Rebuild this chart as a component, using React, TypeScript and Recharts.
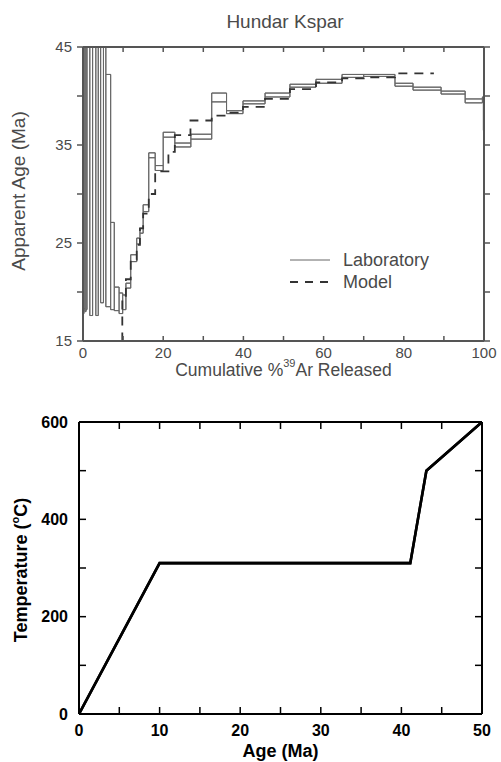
import React from 'react';
import { ComposedChart, LineChart, Line, XAxis, YAxis, ReferenceArea, Legend } from 'recharts';

// ---------- Top panel: Hundar Kspar age spectrum ----------
// cumulative % 39Ar step edges
const stepEdges = [0, 0.25, 0.5, 0.75, 1.0, 1.7, 2.4, 3.2, 3.8, 4.4, 5.1, 5.7, 6.9, 7.8, 9.0, 9.9, 10.7, 11.9, 13.4, 14.2, 15.0, 16.4, 18.0, 20.0, 22.9, 26.9, 32.1, 35.8, 39.9, 45.4, 51.6, 58.1, 64.6, 70.0, 77.8, 82.3, 89.3, 95.3, 99.6, 99.85, 100];
// laboratory apparent age box, lower and upper bound (Ma)
const labLow = [17.8, 18.3, 18.0, 18.2, 48, 17.6, 48, 17.6, 48, 18.9, 48, 18.5, 18.2, 18.1, 17.8, 18.2, 20.4, 23.1, 24.9, 26.0, 28.2, 33.7, 32.4, 35.8, 34.8, 35.6, 39.4, 38.2, 39.2, 39.9, 40.9, 41.3, 41.9, 42.0, 41.0, 40.6, 40.2, 39.3, 39.7, 36.5];
const labHigh = [70, 70, 70, 70, 70, 70, 70, 70, 70, 70, 70, 42.2, 27.1, 20.5, 19.9, 19.7, 20.9, 23.8, 25.5, 26.5, 28.9, 34.2, 32.9, 36.3, 35.2, 36.1, 40.3, 38.5, 39.5, 40.3, 41.2, 41.7, 42.2, 42.2, 41.3, 40.9, 40.5, 39.7, 39.9, 39.9];
// model spectrum (step start, age)
const modelCum = [9.7, 9.8, 10.7, 11.9, 13.4, 14.2, 15.0, 16.4, 18.0, 21.3, 22.9, 26.8, 32.1, 35.8, 39.9, 45.4, 51.6, 58.1, 64.6, 70.0, 77.8, 87.5];
const modelAge = [15.0, 19.6, 21.3, 23.3, 24.8, 26.5, 28.0, 30.0, 32.3, 34.3, 36.0, 37.5, 38.0, 38.3, 38.9, 39.7, 40.7, 41.4, 41.8, 41.9, 42.3, 42.3];

const topXTicks = [0, 10, 20, 30, 40, 50, 60, 70, 80, 90, 100];
const topXLabels = [0, 20, 40, 60, 80, 100];
const topYTicks = [15, 20, 25, 30, 35, 40, 45];
const topYLabels = [15, 25, 35, 45];

// ---------- Bottom panel: temperature history ----------
const ageMa = [0, 10, 41.1, 43.1, 50];
const tempC = [0, 310, 310, 500, 600];
const botXTicks = [0, 5, 10, 15, 20, 25, 30, 35, 40, 45, 50];
const botXLabels = [0, 10, 20, 30, 40, 50];
const botYTicks = [0, 100, 200, 300, 400, 500, 600];
const botYLabels = [0, 200, 400, 600];

const FONT = '"Liberation Sans", Arial, Helvetica, sans-serif';
const GRAY = '#4a4a4a';

const upperData = stepEdges.map((x, i) => ({ x, v: labHigh[Math.min(i, labHigh.length - 1)] }));
const lowerData = stepEdges.map((x, i) => ({ x, v: labLow[Math.min(i, labLow.length - 1)] }));
const modelData = modelCum.map((x, i) => ({ x, v: modelAge[i] }));
const tempData = ageMa.map((a, i) => ({ a, t: tempC[i] }));

const blank = () => '';

const TopXLabel = (props: any) => {
  const vb = props.viewBox || {};
  const cx = vb.x + vb.width / 2;
  return (
    <text x={cx} y={vb.y + 35} textAnchor="middle" fontFamily={FONT} fontSize={17.5} fill={GRAY}>
      Cumulative %
      <tspan dy={-9} fontSize={11}>39</tspan>
      <tspan dy={9}>Ar Released</tspan>
    </text>
  );
};

const TopYLabel = () => (
  <text x={18} y={191} transform="rotate(-90, 18, 191)" textAnchor="middle" dominantBaseline="central" fontFamily={FONT} fontSize={19} fill={GRAY}>
    Apparent Age (Ma)
  </text>
);

const BotXLabel = (props: any) => {
  const vb = props.viewBox || {};
  return (
    <text x={vb.x + vb.width / 2} y={vb.y + 43} textAnchor="middle" fontFamily={FONT} fontWeight="bold" fontSize={18} fill="#000">
      Age (Ma)
    </text>
  );
};

const BotYLabel = () => (
  <text x={21} y={180} transform="rotate(-90, 21, 180)" textAnchor="middle" dominantBaseline="central" fontFamily={FONT} fontWeight="bold" fontSize={18} fill="#000">
    Temperature (<tspan dy={-6} fontSize={11}>o</tspan><tspan dy={6}>C)</tspan>
  </text>
);

const TopLegend = (props: any) => {
  const items = (props.payload || []).filter((p: any) => p.type !== 'none' && (p.value === 'Laboratory' || p.value === 'Model'));
  return (
    <div>
      {items.map((p: any) => (
        <div key={p.value} style={{ display: 'flex', alignItems: 'center', height: 22 }}>
          <svg width={55} height={10} style={{ display: 'block' }}>
            <line x1={2} x2={42} y1={5} y2={5} stroke={p.value === 'Model' ? '#333' : '#666'} strokeWidth={p.value === 'Model' ? 1.8 : 1} strokeDasharray={p.value === 'Model' ? '8 7' : undefined} />
          </svg>
          <span style={{ fontFamily: FONT, fontSize: 18, color: GRAY, lineHeight: '22px' }}>{p.value}</span>
        </div>
      ))}
    </div>
  );
};

const topTick = { fontSize: 15, fill: GRAY, fontFamily: FONT };
const botTick = { fontSize: 16, fill: '#000', fontFamily: FONT, fontWeight: 'bold' as const };

export default function App() {
  return (
    <div style={{ position: 'absolute', left: 0, top: 0, width: 501, height: 762, background: '#fff' }}>
      <div style={{ position: 'absolute', left: 185, top: 10, width: 200, textAlign: 'center', fontFamily: FONT, fontSize: 19, lineHeight: '24px', color: GRAY }}>
        Hundar Kspar
      </div>
      <div style={{ position: 'absolute', left: 0, top: 0 }}>
        <ComposedChart width={501} height={395} margin={{ top: 46, right: 16, bottom: 4, left: 0 }}>
          <XAxis
            dataKey="x"
            type="number"
            domain={[0, 100]}
            allowDataOverflow
            ticks={topXTicks}
            interval={0}
            tickFormatter={(v: number) => (topXLabels.includes(v) ? String(v) : '')}
            tick={topTick}
            tickSize={-5}
            tickMargin={11}
            height={50}
            axisLine={{ stroke: '#555', strokeWidth: 2 }}
            tickLine={{ stroke: '#555', strokeWidth: 1.5 }}
            label={{ content: (p: any) => <TopXLabel {...p} /> }}
          />
          <XAxis
            xAxisId="t"
            orientation="top"
            dataKey="x"
            type="number"
            domain={[0, 100]}
            allowDataOverflow
            ticks={topXTicks}
            interval={0}
            tickFormatter={blank}
            tick={topTick}
            tickSize={-5}
            height={1}
            axisLine={{ stroke: '#555', strokeWidth: 2 }}
            tickLine={{ stroke: '#555', strokeWidth: 1.5 }}
          />
          <YAxis
            type="number"
            domain={[15, 45]}
            allowDataOverflow
            ticks={topYTicks}
            interval={0}
            tickFormatter={(v: number) => (topYLabels.includes(v) ? String(v) : '')}
            tick={topTick}
            tickSize={6}
            tickMargin={5}
            width={83}
            axisLine={{ stroke: '#555', strokeWidth: 2 }}
            tickLine={{ stroke: '#555', strokeWidth: 1.5 }}
            label={{ content: () => <TopYLabel /> }}
          />
          <YAxis
            yAxisId="r"
            orientation="right"
            type="number"
            domain={[15, 45]}
            allowDataOverflow
            ticks={topYTicks}
            interval={0}
            tickFormatter={blank}
            tick={topTick}
            tickSize={6}
            width={1}
            axisLine={{ stroke: '#555', strokeWidth: 2 }}
            tickLine={{ stroke: '#555', strokeWidth: 1.5 }}
          />
          {labLow.map((lo, i) => (
            <ReferenceArea
              key={i}
              x1={stepEdges[i]}
              x2={stepEdges[i + 1]}
              y1={lo}
              y2={labHigh[i]}
              fill="none"
              fillOpacity={0}
              stroke="#666"
              strokeWidth={1}
              ifOverflow="hidden"
            />
          ))}
          <Line data={upperData} dataKey="v" name="Laboratory" type="stepAfter" stroke="#666" strokeWidth={1} dot={false} activeDot={false} isAnimationActive={false} />
          <Line data={lowerData} dataKey="v" name="Laboratory lower" legendType="none" type="stepAfter" stroke="#666" strokeWidth={1} dot={false} activeDot={false} isAnimationActive={false} />
          <Line xAxisId="t" yAxisId="r" data={modelData} dataKey="v" name="Model" type="stepAfter" stroke="#333" strokeWidth={1.8} strokeDasharray="9 7" dot={false} activeDot={false} isAnimationActive={false} />
          <Legend
            layout="vertical"
            align="center"
            verticalAlign="middle"
            content={(p: any) => <TopLegend {...p} />}
            wrapperStyle={{ left: 288, top: 249, width: 180 }}
          />
        </ComposedChart>
      </div>
      <div style={{ position: 'absolute', left: 0, top: 390 }}>
        <LineChart width={501} height={372} margin={{ top: 31, right: 18, bottom: 4, left: 0 }}>
          <XAxis
            dataKey="a"
            type="number"
            domain={[0, 50]}
            allowDataOverflow
            ticks={botXTicks}
            interval={0}
            tickFormatter={(v: number) => (botXLabels.includes(v) ? String(v) : '')}
            tick={botTick}
            tickSize={-7}
            tickMargin={18}
            height={44}
            axisLine={{ stroke: '#000', strokeWidth: 2 }}
            tickLine={{ stroke: '#000', strokeWidth: 1.5 }}
            label={{ content: (p: any) => <BotXLabel {...p} /> }}
          />
          <XAxis
            xAxisId="t"
            orientation="top"
            dataKey="a"
            type="number"
            domain={[0, 50]}
            allowDataOverflow
            ticks={botXTicks}
            interval={0}
            tickFormatter={blank}
            tick={botTick}
            tickSize={-7}
            height={1}
            axisLine={{ stroke: '#000', strokeWidth: 2 }}
            tickLine={{ stroke: '#000', strokeWidth: 1.5 }}
          />
          <YAxis
            type="number"
            domain={[0, 600]}
            allowDataOverflow
            ticks={botYTicks}
            interval={0}
            tickFormatter={(v: number) => (botYLabels.includes(v) ? String(v) : '')}
            tick={botTick}
            tickSize={-7}
            tickMargin={18}
            width={79}
            axisLine={{ stroke: '#000', strokeWidth: 2 }}
            tickLine={{ stroke: '#000', strokeWidth: 1.5 }}
            label={{ content: () => <BotYLabel /> }}
          />
          <YAxis
            yAxisId="r"
            orientation="right"
            type="number"
            domain={[0, 600]}
            allowDataOverflow
            ticks={botYTicks}
            interval={0}
            tickFormatter={blank}
            tick={botTick}
            tickSize={-7}
            width={1}
            axisLine={{ stroke: '#000', strokeWidth: 2 }}
            tickLine={{ stroke: '#000', strokeWidth: 1.5 }}
          />
          <Line data={tempData} dataKey="t" type="linear" stroke="#000" strokeWidth={2.6} dot={false} activeDot={false} isAnimationActive={false} />
          <Line xAxisId="t" yAxisId="r" data={tempData} dataKey="t" legendType="none" type="linear" stroke="#000" strokeWidth={2.6} dot={false} activeDot={false} isAnimationActive={false} />
        </LineChart>
      </div>
    </div>
  );
}
